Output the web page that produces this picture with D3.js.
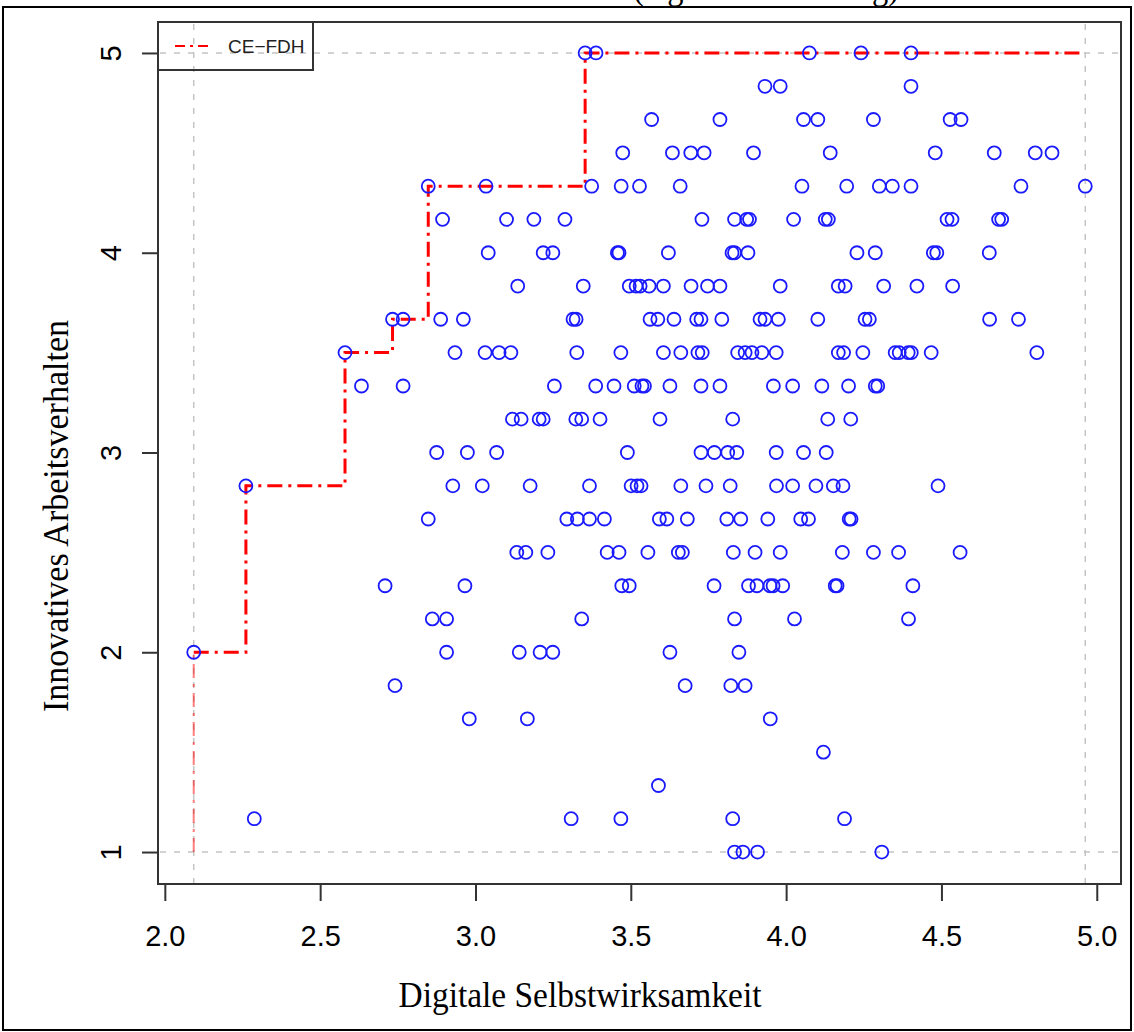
<!DOCTYPE html>
<html>
<head>
<meta charset="utf-8">
<script src="https://cdn.jsdelivr.net/npm/d3@7"></script>
<style>
  body { margin: 0; background: #fff; }
</style>
</head>
<body>
<div id="chart"></div>
<script>
var width = 1134, height = 1032;

// y levels (answers are averages of 6ths)
var yLevels = [5, 4.833, 4.667, 4.5, 4.333, 4.167, 4, 3.833, 3.667, 3.5, 3.333, 3.167,
               3, 2.833, 2.667, 2.5, 2.333, 2.167, 2, 1.833, 1.667, 1.5, 1.333, 1.167, 1];

// x values, one row per y level
var xByLevel = [
  [3.353, 3.388, 4.075, 4.241, 4.402],
  [3.932, 3.981, 4.402],
  [3.567, 3.787, 4.056, 4.102, 4.281, 4.528, 4.563],
  [3.474, 3.634, 3.693, 3.736, 3.895, 4.142, 4.480, 4.670, 4.802, 4.856],
  [2.848, 3.034, 3.374, 3.469, 3.528, 3.659, 4.051, 4.195, 4.300, 4.342, 4.402, 4.756, 4.963],
  [2.894, 3.100, 3.188, 3.288, 3.729, 3.834, 3.873, 3.882, 4.024, 4.126, 4.136, 4.518, 4.534, 4.684, 4.694],
  [3.041, 3.218, 3.249, 3.457, 3.462, 3.621, 3.826, 3.834, 3.877, 4.228, 4.287, 4.474, 4.485, 4.654],
  [3.136, 3.347, 3.495, 3.517, 3.530, 3.559, 3.605, 3.694, 3.747, 3.787, 3.981, 4.168, 4.190, 4.314, 4.421, 4.536],
  [2.733, 2.767, 2.888, 2.961, 3.314, 3.324, 3.562, 3.587, 3.639, 3.712, 3.726, 3.793, 3.916, 3.932, 3.975, 4.102, 4.254, 4.268, 4.655, 4.748],
  [2.580, 2.934, 3.031, 3.076, 3.114, 3.326, 3.468, 3.605, 3.661, 3.716, 3.730, 3.844, 3.868, 3.890, 3.922, 3.968, 4.168, 4.185, 4.247, 4.351, 4.364, 4.393, 4.403, 4.467, 4.807],
  [2.633, 2.767, 3.254, 3.387, 3.446, 3.511, 3.536, 3.544, 3.626, 3.726, 3.787, 3.959, 4.021, 4.115, 4.201, 4.287, 4.295],
  [3.119, 3.147, 3.205, 3.218, 3.323, 3.342, 3.401, 3.594, 3.828, 4.134, 4.208],
  [2.875, 2.974, 3.068, 3.489, 3.726, 3.769, 3.812, 3.841, 3.968, 4.056, 4.129],
  [2.261, 2.927, 3.022, 3.176, 3.367, 3.501, 3.520, 3.533, 3.661, 3.742, 3.820, 3.969, 4.021, 4.096, 4.152, 4.183, 4.489],
  [2.848, 3.294, 3.328, 3.367, 3.415, 3.592, 3.616, 3.682, 3.809, 3.854, 3.941, 4.047, 4.072, 4.203, 4.209],
  [3.133, 3.162, 3.233, 3.424, 3.462, 3.555, 3.653, 3.666, 3.830, 3.900, 3.981, 4.181, 4.281, 4.362, 4.560],
  [2.709, 2.966, 3.471, 3.495, 3.768, 3.879, 3.906, 3.948, 3.958, 3.989, 4.158, 4.164, 4.408],
  [2.861, 2.907, 3.342, 3.834, 4.027, 4.394],
  [2.093, 2.907, 3.141, 3.208, 3.249, 3.626, 3.848],
  [2.741, 3.675, 3.822, 3.868],
  [2.980, 3.167, 3.949],
  [4.120],
  [3.589],
  [2.288, 3.308, 3.468, 3.828, 4.188],
  [3.834, 3.861, 3.908, 4.308]
];

var xTicks = [2.0, 2.5, 3.0, 3.5, 4.0, 4.5, 5.0];
var yTicks = [1, 2, 3, 4, 5];
var xTitle = "Digitale Selbstwirksamkeit";
var yTitle = "Innovatives Arbeitsverhalten";
var caption = "(eigene Darstellung)";
var legendLabel = "CE\u2212FDH";

var points = [];
yLevels.forEach(function (y, i) {
  xByLevel[i].forEach(function (x) { points.push({ x: x, y: y }); });
});

var svg = d3.select("#chart")
  .append("svg")
  .attr("width", width)
  .attr("height", height);

var xScale = d3.scaleLinear().domain([1.978, 5.078]).range([158, 1121]);
var yScale = d3.scaleLinear().domain([0.84, 5.16]).range([884, 21]);

var xmin = d3.min(points, d => d.x), xmax = d3.max(points, d => d.x);
var ymin = d3.min(points, d => d.y), ymax = d3.max(points, d => d.y);

// outer frame + caption (cut off at the top like in the scan)
svg.append("text")
  .attr("x", 633).attr("y", -1)
  .attr("font-family", "Liberation Serif, Times New Roman, serif")
  .attr("font-size", 35)
  .attr("textLength", 266).attr("lengthAdjust", "spacingAndGlyphs")
  .text(caption);

svg.append("rect")
  .attr("x", 3).attr("y", 7)
  .attr("width", 1128).attr("height", 1023)
  .attr("fill", "none").attr("stroke", "#000").attr("stroke-width", 2);

// scope lines
var scope = svg.append("g")
  .attr("stroke", "#c4c4c4").attr("stroke-width", 1.5)
  .attr("stroke-dasharray", "6,8");
[xmin, xmax].forEach(function (v) {
  scope.append("line")
    .attr("x1", xScale(v)).attr("x2", xScale(v))
    .attr("y1", 24).attr("y2", 883);
});
[ymin, ymax].forEach(function (v) {
  scope.append("line")
    .attr("x1", 160).attr("x2", 1119)
    .attr("y1", yScale(v)).attr("y2", yScale(v));
});

// CE-FDH ceiling, computed from the points
var sorted = points.slice().sort((a, b) => a.x - b.x || b.y - a.y);
var steps = [[sorted[0].x, ymin]];
var cur = -Infinity;
sorted.forEach(function (p) {
  if (p.y > cur) {
    if (cur > -Infinity) steps.push([p.x, cur]);
    steps.push([p.x, p.y]);
    cur = p.y;
  }
});
steps.push([xmax, cur]);

var line = d3.line().x(d => xScale(d[0])).y(d => yScale(d[1]));

svg.append("path")
  .attr("d", line(steps.slice(0, 2)))
  .attr("fill", "none").attr("stroke", "#ff0000").attr("stroke-opacity", 0.5)
  .attr("stroke-width", 2).attr("stroke-dasharray", "14,6,3,6");

svg.append("path")
  .attr("d", line(steps.slice(1)))
  .attr("fill", "none").attr("stroke", "#ff0000")
  .attr("stroke-width", 3).attr("stroke-dasharray", "15,6,3,6");

// points
svg.append("g")
  .selectAll("circle")
  .data(points)
  .join("circle")
  .attr("cx", d => xScale(d.x))
  .attr("cy", d => yScale(d.y))
  .attr("r", 6.5)
  .attr("fill", "none")
  .attr("stroke", "#1a1aff")
  .attr("stroke-width", 1.8);

// plot box
svg.append("rect")
  .attr("x", 158).attr("y", 22)
  .attr("width", 963).attr("height", 862)
  .attr("fill", "none").attr("stroke", "#333").attr("stroke-width", 2);

// axes
var xAxis = d3.axisBottom(xScale)
  .tickValues(xTicks)
  .tickFormat(d3.format(".1f"))
  .tickSize(17).tickSizeOuter(0).tickPadding(24);

var gx = svg.append("g")
  .attr("transform", "translate(0,884)")
  .call(xAxis);
gx.select(".domain").remove();
gx.selectAll("line").attr("stroke", "#333").attr("stroke-width", 2);
gx.selectAll("text")
  .attr("fill", "#000")
  .attr("font-family", "Liberation Sans, Arial, Helvetica, sans-serif")
  .attr("font-size", 29);

var yAxis = d3.axisLeft(yScale)
  .tickValues(yTicks)
  .tickFormat(d3.format("d"))
  .tickSize(16).tickSizeOuter(0);

var gy = svg.append("g")
  .attr("transform", "translate(158,0)")
  .call(yAxis);
gy.select(".domain").remove();
gy.selectAll("line").attr("stroke", "#333").attr("stroke-width", 2);
gy.selectAll("text")
  .attr("x", null).attr("dy", null)
  .attr("text-anchor", "middle")
  .attr("transform", "translate(-37,0) rotate(-90)")
  .attr("fill", "#000")
  .attr("font-family", "Liberation Sans, Arial, Helvetica, sans-serif")
  .attr("font-size", 29);

// axis titles
svg.append("text")
  .attr("x", 580).attr("y", 1007)
  .attr("text-anchor", "middle")
  .attr("font-family", "Liberation Serif, Times New Roman, serif")
  .attr("font-size", 35)
  .attr("textLength", 363).attr("lengthAdjust", "spacingAndGlyphs")
  .text(xTitle);

svg.append("text")
  .attr("transform", "translate(68,516) rotate(-90)")
  .attr("text-anchor", "middle")
  .attr("font-family", "Liberation Serif, Times New Roman, serif")
  .attr("font-size", 35)
  .attr("textLength", 392).attr("lengthAdjust", "spacingAndGlyphs")
  .text(yTitle);

// legend
var lg = svg.append("g");
lg.append("rect")
  .attr("x", 158).attr("y", 22)
  .attr("width", 155).attr("height", 48)
  .attr("fill", "none").attr("stroke", "#333").attr("stroke-width", 2);
lg.append("line")
  .attr("x1", 175).attr("x2", 212)
  .attr("y1", 46).attr("y2", 46)
  .attr("stroke", "#ff0000").attr("stroke-width", 2)
  .attr("stroke-dasharray", "10,5,3,5");
lg.append("text")
  .attr("x", 228).attr("y", 53)
  .attr("fill", "#222")
  .attr("font-family", "Liberation Sans, Arial, Helvetica, sans-serif")
  .attr("font-size", 19)
  .text(legendLabel);
</script>
</body>
</html>
